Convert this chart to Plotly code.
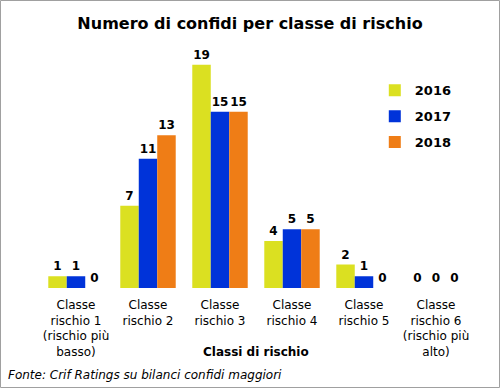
import plotly.graph_objects as go

categories = ["Classe<br>rischio 1<br>(rischio più<br>basso)", "Classe<br>rischio 2", "Classe<br>rischio 3",
              "Classe<br>rischio 4", "Classe<br>rischio 5", "Classe<br>rischio 6<br>(rischio più<br>alto)"]
years = ["2016", "2017", "2018"]
values_2016 = [1, 7, 19, 4, 2, 0]
values_2017 = [1, 11, 15, 5, 1, 0]
values_2018 = [0, 13, 15, 5, 0, 0]
colors = ["#dbe021", "#0033d9", "#ef7d16"]

FONT = "DejaVu Sans"
fig = go.Figure()
for name, vals, col in zip(years, [values_2016, values_2017, values_2018], colors):
    fig.add_trace(go.Bar(
        x=categories, y=vals, name=name, legendgroup=name,
        marker=dict(color=col, line=dict(width=0)),
        text=[str(v) for v in vals], textposition="outside",
        textfont=dict(family=FONT, size=12, color="black", weight="bold"),
        cliponaxis=False,
    ))

fig.update_layout(
    width=500, height=388,
    margin=dict(l=40, r=28, t=53, b=100, autoexpand=False),
    paper_bgcolor="white", plot_bgcolor="white",
    barmode="group", bargap=0.23, bargroupgap=0,
    title=dict(text="<b>Numero di confidi per classe di rischio</b>", x=0.5, xanchor="center",
               y=1 - 23/388, yanchor="middle", font=dict(family=FONT, size=16, color="black"),
               automargin=False),
    font=dict(family=FONT, size=12, color="black"),
    xaxis=dict(showgrid=False, showline=False, ticks="", tickfont=dict(family=FONT, size=12),
               automargin=False, ticklabelstandoff=8),
    yaxis=dict(range=[0, 20], visible=False, showgrid=False, automargin=False),
    legend=dict(x=0.775, y=0.905, xanchor="left", yanchor="top", itemwidth=30,
                font=dict(family=FONT, size=13, color="black", weight="bold"),
                tracegroupgap=6, bgcolor="rgba(0,0,0,0)"),
    showlegend=True,
)
fig.add_annotation(text="<b>Classi di rischio</b>", xref="paper", yref="paper",
                   x=0.5, y=-64/235, xanchor="center", yanchor="middle", showarrow=False,
                   font=dict(family=FONT, size=12, color="black"))
fig.add_annotation(text="<i>Fonte: Crif Ratings su bilanci confidi maggiori</i>", xref="paper", yref="paper",
                   x=-34/432, y=-87/235, xanchor="left", yanchor="middle", showarrow=False,
                   font=dict(family=FONT, size=12, color="black"))
fig.add_shape(type="rect", xref="paper", yref="paper", x0=-39.5/432, x1=459.5/432,
              y0=-99.5/235, y1=287.5/235, line=dict(color="#a0a0a0", width=1), fillcolor="rgba(0,0,0,0)")
fig.write_html("out.html", config={"displayModeBar": False},
               post_script="document.body.style.margin='0';document.body.style.padding='0';")
